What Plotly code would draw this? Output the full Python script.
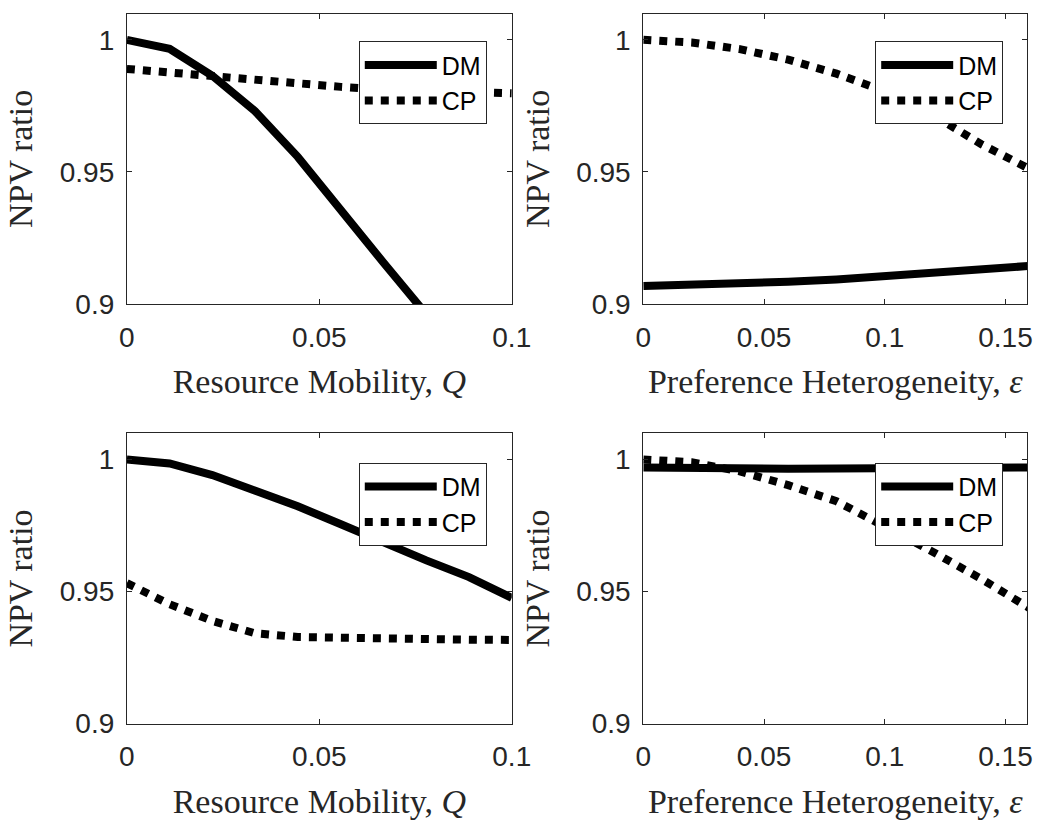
import plotly.graph_objects as go

# ---------------- data ----------------
Q = [0, 0.0111, 0.0222, 0.0333, 0.0444, 0.0556, 0.0667, 0.0778, 0.0889, 0.1]
EPS = [0, 0.02, 0.04, 0.06, 0.08, 0.10, 0.12, 0.14, 0.16]

# top-left: resource mobility
tl_dm = [1.0, 0.9966, 0.9864, 0.9730, 0.9557, 0.9353, 0.9156, 0.8961]
tl_cp = [0.9890, 0.9875, 0.9862, 0.9848, 0.9835, 0.9822, 0.9812, 0.9806, 0.9801, 0.9798]

# top-right: preference heterogeneity
tr_dm = [0.9068, 0.9072, 0.9077, 0.9084, 0.9093, 0.9104, 0.9116, 0.9129, 0.9144]
tr_cp = [1.0, 0.9990, 0.9965, 0.9925, 0.9872, 0.9805, 0.9715, 0.9605, 0.9511]

# bottom-left: resource mobility
bl_dm = [1.0, 0.9985, 0.9941, 0.9885, 0.9823, 0.9755, 0.9685, 0.9618, 0.9555, 0.9476]
bl_cp = [0.9532, 0.9452, 0.9389, 0.9342, 0.9328, 0.9324, 0.9321, 0.9319, 0.9318, 0.9317]

# bottom-right: preference heterogeneity
br_dm = [0.9970, 0.9967, 0.9965, 0.9965, 0.9966, 0.9967, 0.9968, 0.9969, 0.9970]
br_cp = [1.0, 0.9990, 0.9955, 0.9903, 0.9842, 0.9750, 0.9650, 0.9548, 0.9437]

y_ticks = [0.9, 0.95, 1.0]
y_ticktext = ["0.9", "0.95", "1"]
q_ticks = [0, 0.05, 0.1]
q_ticktext = ["0", "0.05", "0.1"]
e_ticks = [0, 0.05, 0.1, 0.15]
e_ticktext = ["0", "0.05", "0.1", "0.15"]

q_title = "Resource Mobility, <i>Q</i>"
e_title = "Preference Heterogeneity, <i>ε</i>"
y_title = "NPV ratio"

W, H = 1054, 821
LW = 8
AX = "#262626"
SANS = "Liberation Sans, Arial, sans-serif"
SERIF = "Liberation Serif, Times New Roman, serif"

fig = go.Figure()

panels = [
    (Q, tl_dm, tl_cp, "", "legend"),
    (EPS, tr_dm, tr_cp, "2", "legend2"),
    (Q, bl_dm, bl_cp, "3", "legend3"),
    (EPS, br_dm, br_cp, "4", "legend4"),
]
for xs, dm, cp, sfx, lg in panels:
    fig.add_trace(go.Scatter(x=xs[:len(dm)], y=dm, mode="lines", name="DM",
                             line=dict(color="black", width=LW, dash="solid"),
                             xaxis="x" + sfx, yaxis="y" + sfx, legend=lg))
    fig.add_trace(go.Scatter(x=xs[:len(cp)], y=cp, mode="lines", name="CP",
                             line=dict(color="black", width=LW, dash="dot"),
                             xaxis="x" + sfx, yaxis="y" + sfx, legend=lg))

def px_x(v):
    return v / W

def px_y(v):
    return 1 - v / H

xdom_l = [px_x(122), px_x(517)]
xdom_r = [px_x(652), px_x(1046)]
ydom_t = [px_y(310), px_y(14)]
ydom_b = [px_y(738), px_y(442)]

common_axis = dict(showline=True, linecolor=AX, linewidth=1, mirror="ticks",
                   ticks="inside", ticklen=5, tickcolor=AX, tickwidth=1,
                   showgrid=False, zeroline=False,
                   tickfont=dict(family=SANS, size=28, color=AX))

def xaxis(dom, anchor, rng, tv, tt, title):
    return dict(domain=dom, anchor=anchor, range=rng, tickvals=tv, ticktext=tt,
                title=dict(text=title, font=dict(family=SERIF, size=34, color=AX), standoff=17),
                ticklabelstandoff=8, **common_axis)

def yaxis(dom, anchor):
    return dict(domain=dom, anchor=anchor, range=[0.9, 1.0099], tickvals=y_ticks,
                ticktext=y_ticktext,
                title=dict(text=y_title, font=dict(family=SERIF, size=34, color=AX), standoff=16),
                ticklabelstandoff=6, **common_axis)

E_MAX = 0.159
legend_common = dict(bgcolor="white", bordercolor=AX, borderwidth=1,
                     font=dict(family=SANS, size=25, color="black"),
                     itemwidth=72, xanchor="left", yanchor="top",
                     tracegroupgap=0, itemclick=False, itemdoubleclick=False)

fig.update_layout(
    width=W, height=H,
    margin=dict(l=0, r=0, t=0, b=0),
    paper_bgcolor="white", plot_bgcolor="white",
    showlegend=True,
    xaxis=xaxis(xdom_l, "y", [0, 0.1], q_ticks, q_ticktext, q_title),
    yaxis=yaxis(ydom_t, "x"),
    xaxis2=xaxis(xdom_r, "y2", [0, E_MAX], e_ticks, e_ticktext, e_title),
    yaxis2=yaxis(ydom_t, "x2"),
    xaxis3=xaxis(xdom_l, "y3", [0, 0.1], q_ticks, q_ticktext, q_title),
    yaxis3=yaxis(ydom_b, "x3"),
    xaxis4=xaxis(xdom_r, "y4", [0, E_MAX], e_ticks, e_ticktext, e_title),
    yaxis4=yaxis(ydom_b, "x4"),
    legend=dict(x=px_x(360), y=px_y(42), **legend_common),
    legend2=dict(x=px_x(890), y=px_y(42), **legend_common),
    legend3=dict(x=px_x(360), y=px_y(472), **legend_common),
    legend4=dict(x=px_x(890), y=px_y(472), **legend_common),
)

fig.write_html("out.html",
               config={"displayModeBar": False},
               post_script="document.body.style.margin='0';document.body.style.overflow='hidden';")
